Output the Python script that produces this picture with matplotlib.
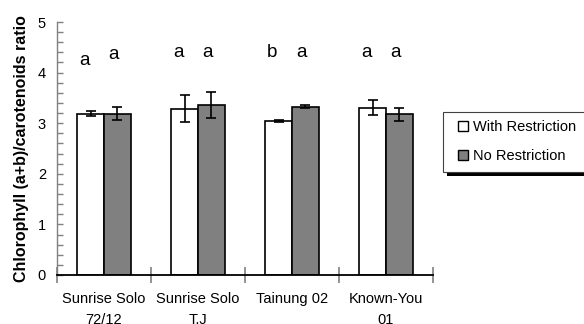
import matplotlib.pyplot as plt
from matplotlib.patches import Rectangle, Patch
from matplotlib.ticker import MultipleLocator
import numpy as np

plt.rcParams['font.family'] = ['Liberation Sans', 'DejaVu Sans']

# Data
cultivars = ['Sunrise Solo\n72/12', 'Sunrise Solo\nT.J', 'Tainung 02', 'Known-You\n01']
with_restriction = [3.19, 3.29, 3.04, 3.31]
with_restriction_err = [0.05, 0.26, 0.02, 0.15]
no_restriction = [3.19, 3.36, 3.33, 3.18]
no_restriction_err = [0.13, 0.25, 0.03, 0.13]
letters_with = ['a', 'a', 'b', 'a']
letters_no = ['a', 'a', 'a', 'a']

fig = plt.figure(figsize=(5.84, 3.24), dpi=100)
ax = fig.add_axes([57 / 584, 1 - 275 / 324, 376 / 584, 253 / 324])

x = np.arange(len(cultivars))
w = 0.287
err_kw = dict(ecolor='black', elinewidth=1.2, capsize=3.5, capthick=1.2)
ax.bar(x - w / 2, with_restriction, w, yerr=with_restriction_err,
       color='white', edgecolor='black', linewidth=1.2, error_kw=err_kw, zorder=2)
ax.bar(x + w / 2, no_restriction, w, yerr=no_restriction_err,
       color='#808080', edgecolor='black', linewidth=1.2, error_kw=err_kw, zorder=2)

# significance letters above each pair
letter_y_with = [4.15, 4.31, 4.31, 4.31]
letter_y_no = [4.27, 4.31, 4.31, 4.31]
for i in range(len(cultivars)):
    ax.text(x[i] - 0.21, letter_y_with[i], letters_with[i], ha='center',
            va='baseline', fontsize=13.5)
    ax.text(x[i] + 0.10, letter_y_no[i], letters_no[i], ha='center',
            va='baseline', fontsize=13.5)

ax.set_xlim(-0.5, len(cultivars) - 0.5)
ax.set_ylim(0, 5)

# group separators as major ticks, names as minor tick labels
ax.set_xticks(np.arange(len(cultivars) + 1) - 0.5)
ax.set_xticklabels([])
ax.set_xticks(x, minor=True)
ax.set_xticklabels(cultivars, minor=True, fontsize=10.5, linespacing=1.7)
ax.tick_params(axis='x', which='major', direction='inout', length=11,
               color='#808080', width=1.2)
ax.tick_params(axis='x', which='minor', length=0, pad=12)

ax.yaxis.set_major_locator(MultipleLocator(1))
ax.yaxis.set_minor_locator(MultipleLocator(0.2))
ax.tick_params(axis='y', which='both', direction='in', length=4,
               color='#808080', width=1.0, labelsize=10.5, pad=8)

for side in ['top', 'right']:
    ax.spines[side].set_visible(False)
ax.spines['left'].set_color('#808080')
ax.spines['left'].set_linewidth(1.0)
ax.spines['bottom'].set_linewidth(1.3)

ax.set_ylabel('Chlorophyll (a+b)/carotenoids ratio', fontsize=11.5,
              fontweight='bold', labelpad=6)

# legend box with a solid black drop shadow
fig.add_artist(Rectangle((447 / 584, 1 - 176 / 324), 0.3, 60 / 324,
                         transform=fig.transFigure, facecolor='black',
                         edgecolor='none', zorder=3))
fig.add_artist(Rectangle((443 / 584, 1 - 172 / 324), 0.3, 60 / 324,
                         transform=fig.transFigure, facecolor='white',
                         edgecolor='#404040', linewidth=0.8, zorder=4))
handles = [Patch(facecolor='white', edgecolor='black', linewidth=1.0),
           Patch(facecolor='#808080', edgecolor='black', linewidth=1.0)]
leg = fig.legend(handles, ['With Restriction', 'No Restriction'],
                 loc='center left', bbox_to_anchor=(458 / 584, 1 - 141.5 / 324),
                 frameon=False, borderpad=0, borderaxespad=0, fontsize=10.5,
                 handlelength=0.7, handleheight=0.7, handletextpad=0.3,
                 labelspacing=1.0)
leg.set_zorder(5)

plt.savefig('out.png', dpi=100)
